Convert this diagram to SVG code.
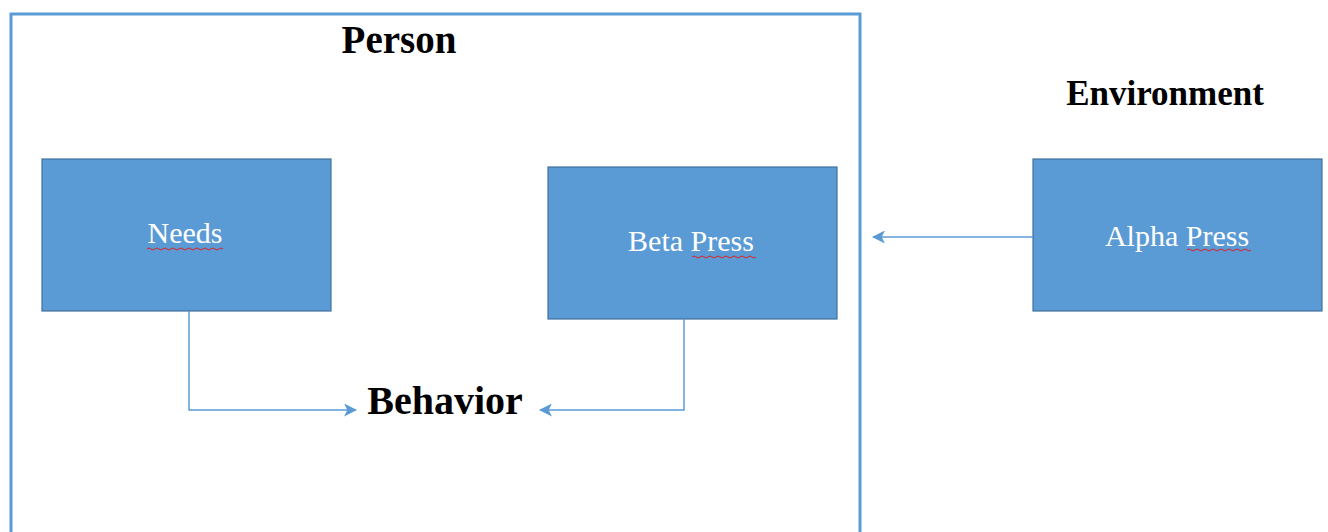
<svg xmlns="http://www.w3.org/2000/svg" width="1328" height="532" viewBox="0 0 1328 532">
<style>
.box{fill:#5B9BD5;stroke:#41719C;stroke-width:1.2}
.lbl{font-family:"Liberation Serif","Times New Roman",serif;font-size:30px;fill:#ffffff;text-anchor:middle}
.title{font-family:"Liberation Serif","Times New Roman",serif;font-weight:bold;fill:#000;text-anchor:middle}
.conn{fill:none;stroke:#5B9BD5;stroke-width:1.5}
.sq{fill:none;stroke:#E02020;stroke-width:1}
</style>
<defs>
<marker id="arr" viewBox="0 0 12 12" refX="11" refY="6" markerWidth="13" markerHeight="13" markerUnits="userSpaceOnUse" orient="auto">
<path d="M0,0 L12,6 L0,12 L3,6 Z" fill="#5B9BD5"/>
</marker>
</defs>
<rect width="1328" height="532" fill="#ffffff"/>
<g id="person">
<path d="M11,540 V14 H860 V540" fill="none" stroke="#5B9BD5" stroke-width="3"/>
<text class="title" x="399" y="53" font-size="39">Person</text>
</g>
<g id="environment">
<text class="title" x="1165" y="105" font-size="35">Environment</text>
</g>
<g id="needs">
<rect class="box" x="42" y="159" width="289" height="152"/>
<text class="lbl" x="185" y="243">Needs</text>
<path class="sq" d="M147,249 q2,-2 4,0 t4,0 t4,0 t4,0 t4,0 t4,0 t4,0 t4,0 t4,0 t4,0 t4,0 t4,0 t4,0 t4,0 t4,0 t4,0 t4,0 t4,0 t4,0"/>
</g>
<g id="beta">
<rect class="box" x="548" y="167" width="289" height="152"/>
<text class="lbl" x="691" y="251">Beta Press</text>
<path class="sq" d="M692,257 q2,-2 4,0 t4,0 t4,0 t4,0 t4,0 t4,0 t4,0 t4,0 t4,0 t4,0 t4,0 t4,0 t4,0 t4,0 t4,0 t4,0"/>
</g>
<g id="alpha">
<rect class="box" x="1033" y="159" width="289" height="152"/>
<text class="lbl" x="1177" y="246">Alpha Press</text>
<path class="sq" d="M1187,250 q2,-2 4,0 t4,0 t4,0 t4,0 t4,0 t4,0 t4,0 t4,0 t4,0 t4,0 t4,0 t4,0 t4,0 t4,0 t4,0 t4,0"/>
</g>
<g id="behavior">
<text class="title" x="445" y="414" font-size="40">Behavior</text>
</g>
<g id="connectors">
<path class="conn" d="M189,311 V410 H356" marker-end="url(#arr)"/>
<path class="conn" d="M684,319 V410 H540" marker-end="url(#arr)"/>
<path class="conn" d="M1033,237 H873" marker-end="url(#arr)"/>
</g>
</svg>
